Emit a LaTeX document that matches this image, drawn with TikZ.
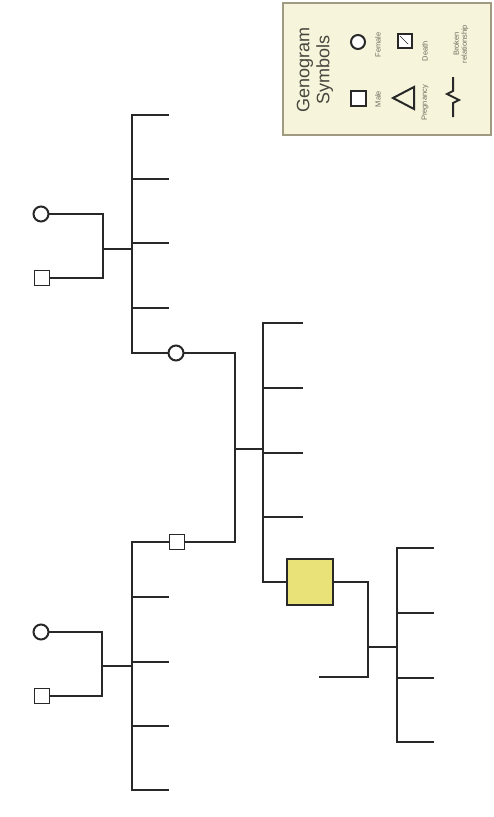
\documentclass[tikz,border=0pt]{standalone}
\usepackage{fontspec}
\setmainfont{Liberation Sans}
\begin{document}
\begin{tikzpicture}[x=1pt,y=-1pt,
  ln/.style={draw=linec, line width=2.2pt, line cap=rect},
  fem/.style={circle, draw=linec, line width=2pt, fill=white, minimum size=15pt, inner sep=0pt},
  mal/.style={rectangle, draw=linec, line width=1.7pt, fill=white, minimum size=15pt, inner sep=0pt},
  idxbox/.style={rectangle, draw=linec, line width=2pt, fill=idxc, minimum size=46pt, inner sep=0pt},
  lsym/.style={draw=linec, line width=2pt},
  ltitle/.style={rotate=90, font=\fontsize{18}{20}\selectfont, text=titc, align=center, inner sep=0pt},
  llabel/.style={rotate=90, font=\fontsize{7.5}{8}\selectfont, text=labc, align=center, inner sep=0pt}
]
\definecolor{linec}{RGB}{40,40,40}
\definecolor{idxc}{RGB}{232,226,120}
\definecolor{legf}{RGB}{246,244,218}
\definecolor{legb}{RGB}{160,154,128}
\definecolor{titc}{RGB}{70,70,62}
\definecolor{labc}{RGB}{110,108,95}
\useasboundingbox (0,0) rectangle (493,817);
\fill[white] (0,0) rectangle (493,817);

% ---------- legend ----------
\draw[fill=legf, draw=legb, line width=1.3pt] (283,3) rectangle (491,135);
\node[ltitle] (lt1) at (315,70) {Genogram\\Symbols};
\node[fem, minimum size=14pt] (lfem) at (358,42) {};
\node[mal, line width=2pt] (lmal) at (358,98) {};
\node[mal, minimum size=14pt] (ldeath) at (405,41) {};
\draw[linec, line width=0.7pt] (ldeath.north west) ++(3,3) -- ++(8,8);
\draw[lsym, line join=miter] (393,98) -- (414,87) -- (414,109) -- cycle;
\draw[lsym] (453,77) -- (453,91) -- (447,94) -- (459,100) -- (453,103) -- (453,117);
\node[llabel] (lbf) at (378,45) {Female};
\node[llabel] (lbm) at (378,99) {Male};
\node[llabel] (lbd) at (425,51) {Death};
\node[llabel] (lbp) at (425,103) {Pregnancy};
\node[llabel] (lbb) at (461,44) {Broken\\relationship};

% ---------- upper grandparents ----------
\node[fem] (gm1) at (41,214) {};
\node[mal] (gf1) at (42,278) {};
\coordinate (c1t) at (103,214);
\coordinate (c1b) at (103,278);
\coordinate (c1m) at (103,249);
\draw[ln] (gm1) -- (c1t) -- (c1b) -- (gf1);
\coordinate (s1t) at (132,115);
\coordinate (s1m) at (132,249);
\coordinate (s1b) at (132,353);
\draw[ln] (c1m) -- (s1m);
\draw[ln] (s1t) -- (s1b);
\foreach \yy [count=\i] in {115,179,243,308}{
  \coordinate (s1k\i) at (132,\yy);
  \coordinate (s1e\i) at (168,\yy);
  \draw[ln] (s1k\i) -- (s1e\i);
}

% ---------- mother ----------
\node[fem] (mo) at (176,353) {};
\coordinate (p1) at (235,353);
\coordinate (p2) at (235,542);
\coordinate (pm) at (235,449);
\draw[ln] (s1b) -- (mo);
\draw[ln] (mo) -- (p1) -- (p2);

% ---------- father ----------
\node[mal] (fa) at (177,542) {};
\coordinate (s2t) at (132,542);
\coordinate (s2b) at (132,790);
\draw[ln] (p2) -- (fa);
\draw[ln] (fa) -- (s2t) -- (s2b);
\foreach \yy [count=\i] in {597,662,726,790}{
  \coordinate (s2k\i) at (132,\yy);
  \coordinate (s2e\i) at (168,\yy);
  \draw[ln] (s2k\i) -- (s2e\i);
}

% ---------- lower grandparents ----------
\node[fem] (gm2) at (41,632) {};
\node[mal] (gf2) at (42,696) {};
\coordinate (c2t) at (102,632);
\coordinate (c2b) at (102,696);
\coordinate (c2m) at (102,666);
\coordinate (s2m) at (132,666);
\draw[ln] (gm2) -- (c2t) -- (c2b) -- (gf2);
\draw[ln] (c2m) -- (s2m);

% ---------- siblings of index ----------
\coordinate (s3t) at (263,323);
\coordinate (s3m) at (263,449);
\coordinate (s3b) at (263,582);
\draw[ln] (pm) -- (s3m);
\draw[ln] (s3t) -- (s3b);
\foreach \yy [count=\i] in {323,388,453,517}{
  \coordinate (s3k\i) at (263,\yy);
  \coordinate (s3e\i) at (302,\yy);
  \draw[ln] (s3k\i) -- (s3e\i);
}

% ---------- index person ----------
\node[idxbox] (idx) at (310,582) {};
\draw[ln] (s3b) -- (idx);
\coordinate (q1) at (368,582);
\coordinate (q2) at (368,677);
\coordinate (sp) at (320,677);
\coordinate (qm) at (368,647);
\draw[ln] (idx) -- (q1) -- (q2) -- (sp);

% ---------- children ----------
\coordinate (s4t) at (397,548);
\coordinate (s4m) at (397,647);
\coordinate (s4b) at (397,742);
\draw[ln] (qm) -- (s4m);
\draw[ln] (s4t) -- (s4b);
\foreach \yy [count=\i] in {548,613,678,742}{
  \coordinate (s4k\i) at (397,\yy);
  \coordinate (s4e\i) at (433,\yy);
  \draw[ln] (s4k\i) -- (s4e\i);
}
\end{tikzpicture}
\end{document}
